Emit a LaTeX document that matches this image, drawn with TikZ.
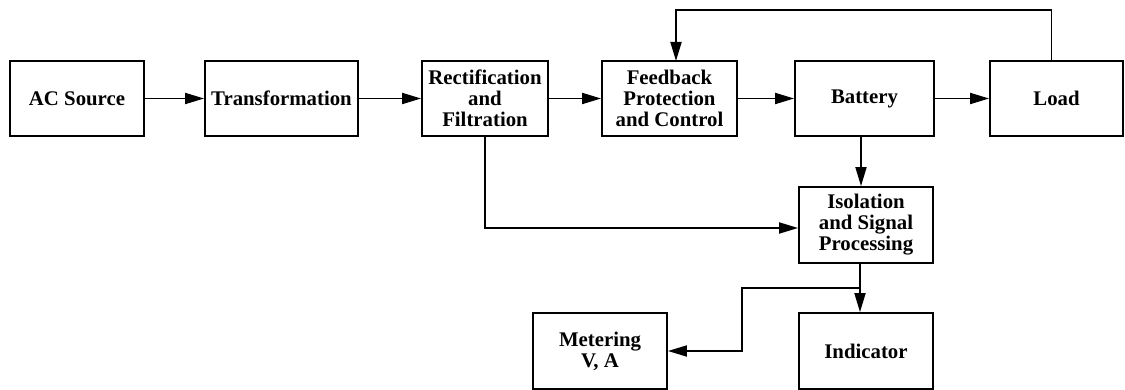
\documentclass[tikz,border=0pt]{standalone}
\usepackage{fontspec}
\setmainfont{Liberation Serif}
\usetikzlibrary{arrows.meta}
\begin{document}
\begin{tikzpicture}[x=1pt,y=-1pt, line join=miter, >={Triangle[length=19pt,width=11pt]},
  blok/.style={draw, line width=1.8pt, rectangle, minimum height=75pt, align=center,
    inner sep=0pt, font=\fontsize{20.8}{21}\selectfont\bfseries},
  wire/.style={line width=1.8pt}]
\useasboundingbox (0,0) rectangle (1125,390);
% top row
\node[blok, minimum width=134pt] (ac) at (77,98.5) {AC Source};
\node[blok, minimum width=153pt] (tr) at (281.5,98.5) {Transformation};
\node[blok, minimum width=126pt] (rf) at (485,98.5) {Rectification\\and\\Filtration};
\node[blok, minimum width=135pt] (fb) at (669.5,98.5) {Feedback\\Protection\\and Control};
\node[blok, minimum width=139pt] (bat) at (864.5,98.5) {Battery};
\node[blok, minimum width=133pt] (load) at (1056.5,98.5) {Load};
% lower part
\node[blok, minimum width=134pt, minimum height=76pt] (iso) at (866,225) {Isolation\\and Signal\\Processing};
\node[blok, minimum width=134pt, minimum height=76pt] (ind) at (866,351) {Indicator};
\node[blok, minimum width=134pt, minimum height=76pt] (met) at (600,351) {Metering\\V, A};
\coordinate (top) at (0,10);
\coordinate (fbin) at (676,61);
\coordinate (split) at (860,288);
\coordinate (bend) at (742,288);
% connectors
\foreach \a/\b in {ac/tr,tr/rf,rf/fb,fb/bat,bat/load}{\draw[wire,->] (\a) -- (\b);}
\draw[wire,->] ([xshift=-5pt]load.north) |- (fbin |- top) -- (fbin);
\draw[wire,->] ([xshift=-3.5pt]bat.south) -- ([xshift=-5pt]iso.north);
\draw[wire,->] (rf.south) |- ([yshift=-3pt]iso.west);
\draw[wire,->] ([xshift=-6pt]iso.south) -- ([xshift=-6pt]ind.north);
\draw[wire,->] (split) -- (bend) |- (met.east);
\end{tikzpicture}
\end{document}
